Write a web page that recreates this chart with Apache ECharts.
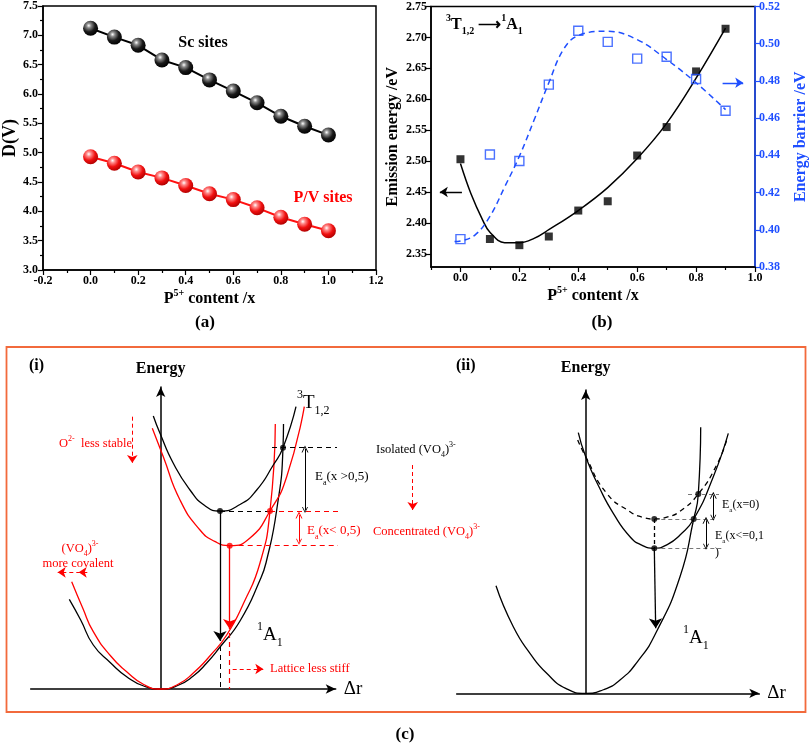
<!DOCTYPE html>
<html><head><meta charset="utf-8">
<script src="https://cdn.jsdelivr.net/npm/echarts@6/dist/echarts.min.js"></script>
<style>html,body{margin:0;padding:0;background:#fff}#c{width:810px;height:744px}</style>
</head><body><div id="c"></div>
<script>
const FONT = '"Liberation Serif","Times New Roman",serif';
const BLUE = '#1f4fff';
const RED = '#ff0000';

// ---------- panel (a) ----------
const xA = [0, 0.1, 0.2, 0.3, 0.4, 0.5, 0.6, 0.7, 0.8, 0.9, 1.0];
const scSites = [7.12, 6.97, 6.83, 6.58, 6.45, 6.24, 6.05, 5.85, 5.62, 5.45, 5.30];
const pvSites = [4.93, 4.82, 4.67, 4.57, 4.44, 4.30, 4.20, 4.06, 3.90, 3.78, 3.67];

// ---------- panel (b) ----------
const xB = [0, 0.1, 0.2, 0.3, 0.4, 0.5, 0.6, 0.7, 0.8, 0.9];
const emission = [2.503, 2.374, 2.364, 2.378, 2.420, 2.435, 2.509, 2.555, 2.645, 2.714];
const barrier = [0.395, 0.4405, 0.437, 0.478, 0.507, 0.501, 0.492, 0.493, 0.481, 0.464];
const emissionFitX = [0, 0.035, 0.075, 0.1, 0.15, 0.2, 0.25, 0.3, 0.4, 0.5, 0.6, 0.7, 0.8, 0.9];
const emissionFit = [2.496, 2.448, 2.405, 2.385, 2.368, 2.368, 2.375, 2.389, 2.420, 2.457, 2.504, 2.561, 2.634, 2.715];
const barrierFitX = [-0.02, 0, 0.05, 0.1, 0.15, 0.2, 0.25, 0.3, 0.35, 0.4, 0.5, 0.6, 0.7, 0.8, 0.9];
const barrierFit = [0.3937, 0.3940, 0.3973, 0.4072, 0.423, 0.4395, 0.459, 0.479, 0.497, 0.5044, 0.5067, 0.5022, 0.4915, 0.479, 0.4646];
const xTicksB = [0, 0.2, 0.4, 0.6, 0.8, 1.0];
const xMinorB = [-0.1, 0.1, 0.3, 0.5, 0.7, 0.9];
const yTicksB = [2.35, 2.40, 2.45, 2.50, 2.55, 2.60, 2.65, 2.70, 2.75];

// ---------- panel (c)(i) schematic (Δr, Energy in arbitrary units) ----------
const groundBlackI = [[-9.14, 8.97], [-8, 6.9], [-6.74, 4.4], [-5, 2.6], [-3.4, 1.23], [-1.7, 0.3], [0, 0], [1.7, 0.35], [3.26, 1.3], [4.6, 2.6], [5.93, 4.2], [7.93, 6.8], [9.93, 10.9], [10.6, 12.9], [11.6, 17.9], [12.23, 24.13], [12.28, 26.5]];
const groundRedI = [[-8.9, 10.73], [-7.8, 8.1], [-6.74, 5.73], [-5, 3.3], [-3.4, 1.73], [-1.7, 0.45], [0, 0], [1.7, 0.45], [3.26, 1.6], [5, 3.4], [6.6, 5.4], [8.3, 8.6], [9.93, 12.6], [10.93, 17.8], [11.46, 26.5]];
const excitedBlackI = [[-0.74, 27.3], [-0.07, 25.57], [1.26, 22.57], [2.93, 19.9], [4.4, 18.35], [5.93, 17.8], [7.93, 18.45], [9.6, 19.9], [11.26, 22.4], [12.23, 24.13], [13.53, 28.23]];
const excitedRedI = [[-0.84, 26.07], [0.26, 23.23], [1.93, 18.9], [3.93, 15.9], [5.4, 14.76], [6.9, 14.33], [8.93, 15.1], [10.93, 17.8], [12.6, 21.23], [14.36, 28.23]];
const dotsBlackI = [[5.93, 17.8], [12.23, 24.13]];
const dotsRedI = [[10.93, 17.8], [6.9, 14.33]];

// ---------- panel (c)(ii) schematic ----------
const groundII = [[-8.97, 10.76], [-7.24, 6.66], [-5.5, 3.9], [-3.9, 2.0], [-2, 0.5], [0, 0], [1.7, 0.33], [3.43, 1.33], [5.2, 3.2], [7.0, 6.0], [9.43, 11.66], [10.8, 17.43], [11.26, 19.93], [11.5, 26.6]];
const excitedSolidII = [[-0.74, 26.06], [0, 23.66], [1.4, 20.5], [2.76, 18.0], [4.43, 15.66], [5.6, 14.82], [6.86, 14.5], [8.2, 14.9], [9.43, 15.83], [10.8, 17.43], [12.76, 21.66], [14.26, 26.0]];
const excitedDashedII = [[-0.8, 25.33], [0, 23.66], [2.1, 20.0], [4.43, 18.16], [5.6, 17.63], [6.86, 17.43], [8.2, 17.65], [9.43, 18.2], [11.26, 19.93], [13.1, 22.83], [14.1, 25.33]];
const dotsII = [[6.86, 17.43], [6.86, 14.5], [11.26, 19.93], [10.8, 17.43]];

const pairs = (xs, ys) => xs.map((x, i) => [x, ys[i]]);

const chart = echarts.init(document.getElementById('c'), null, {renderer: 'canvas'});

const tickLbl = (c) => ({fontFamily: FONT, fontWeight: 'bold', fontSize: 12, color: c || '#000'});
const richAxisName = (c) => ({
  n: {fontFamily: FONT, fontWeight: 'bold', fontSize: 16, color: c, lineHeight: 22, verticalAlign: 'middle'},
  sup: {fontFamily: FONT, fontWeight: 'bold', fontSize: 10, color: c, lineHeight: 12, verticalAlign: 'top'}
});

function sphere(light, mid, dark) {
  return {type: 'radial', x: 0.38, y: 0.32, r: 0.7, colorStops: [
    {offset: 0, color: '#ffffff'}, {offset: 0.22, color: light}, {offset: 0.6, color: mid}, {offset: 1, color: dark}]};
}

// graphic text with sup/sub
function gtext(x, y, text, fs, color, opt) {
  opt = opt || {};
  const w = opt.bold ? 'bold' : 'normal';
  const s = Math.round(fs * 0.62);
  return {
    type: 'text', x: x, y: y, z: 100,
    style: {
      text: text, fill: color, fontFamily: FONT, fontSize: fs, fontWeight: w,
      align: opt.align || 'left', verticalAlign: 'middle',
      rich: {
        n: {fontFamily: FONT, fontSize: fs, fontWeight: w, fill: color, lineHeight: Math.round(fs * 1.45), verticalAlign: 'middle'},
        sup: {fontFamily: FONT, fontSize: s, fontWeight: w, fill: color, lineHeight: s + 1, verticalAlign: 'top'},
        sub: {fontFamily: FONT, fontSize: s, fontWeight: w, fill: color, lineHeight: s + 1, verticalAlign: 'bottom'}
      }
    }
  };
}

const chevron = 'path://M0,10L5,0L10,10L8.6,10L5,2.8L1.4,10Z';

// axis indices of the two schematic grids
const AX = {i: [3, 3], ii: [4, 4]};

function arrowLines(ax, color, type, data, sym, size, width) {
  return {
    type: 'lines', coordinateSystem: 'cartesian2d', xAxisIndex: ax[0], yAxisIndex: ax[1],
    symbol: sym, symbolSize: size, silent: true, z: 5,
    lineStyle: {color: color, width: width || 1.2, type: type, opacity: 1, curveness: 0},
    data: data.map(c => ({coords: c}))
  };
}

function curve(ax, data, color, type, width) {
  return {type: 'line', xAxisIndex: ax[0], yAxisIndex: ax[1], data: data, smooth: 0.55,
    showSymbol: false, clip: false, silent: true,
    lineStyle: {color: color, width: width || 1.3, type: type || 'solid'}};
}
function dots(ax, data, color) {
  return {type: 'scatter', xAxisIndex: ax[0], yAxisIndex: ax[1], data: data, symbolSize: 6, z: 6, silent: true,
    itemStyle: {color: color}};
}

function schemAxes(gi, xmin, xmax, ymax, ngap) {
  return {
    x: {gridIndex: gi, type: 'value', min: xmin, max: xmax, name: 'Δr', nameLocation: 'end', nameGap: 8,
      nameTextStyle: {fontFamily: FONT, fontSize: 19, color: '#000', verticalAlign: 'middle'},
      axisLine: {show: true, onZero: false, symbol: ['none', 'arrow'], symbolSize: [7, 10], lineStyle: {color: '#000', width: 1.5}},
      axisTick: {show: false}, axisLabel: {show: false}, splitLine: {show: false}},
    y: {gridIndex: gi, type: 'value', min: 0, max: ymax, name: 'Energy', nameLocation: 'end', nameGap: ngap,
      nameTextStyle: {fontFamily: FONT, fontSize: 16, fontWeight: 'bold', color: '#000'},
      axisLine: {show: true, onZero: true, symbol: ['none', 'arrow'], symbolSize: [7, 10], lineStyle: {color: '#000', width: 1.5}},
      axisTick: {show: false}, axisLabel: {show: false}, splitLine: {show: false}}
  };
}
const sI = schemAxes(2, -13, 17.5, 30.2, 10);
const sII = schemAxes(3, -12.9, 17.36, 30.33, 14);

const option = {
  backgroundColor: '#fff',
  animation: false,
  grid: [
    {left: 40, top: 6, width: 336, height: 264, show: true, borderColor: '#000', borderWidth: 1.5},
    {left: 431, top: 6.5, width: 328, height: 260.5, show: true, borderColor: '#000', borderWidth: 1.5},
    {left: 30.7, top: 387, width: 305, height: 302},
    {left: 456.7, top: 390, width: 302.6, height: 303.3}
  ],
  xAxis: [
    {gridIndex: 0, type: 'value', min: -0.2, max: 1.2, interval: 0.2,
      name: '{n|P}{sup|5+}{n| content /x}', nameLocation: 'middle', nameGap: 18,
      nameTextStyle: {rich: richAxisName('#000')},
      axisLine: {onZero: false, lineStyle: {color: '#000', width: 1.5}},
      axisTick: {inside: false, length: 5, lineStyle: {width: 1.2}},
      minorTick: {show: true, splitNumber: 2, length: 3, lineStyle: {color: '#000', width: 1.2}},
      axisLabel: Object.assign({margin: 5, formatter: v => v.toFixed(1)}, tickLbl()),
      splitLine: {show: false}},
    {gridIndex: 1, type: 'value', min: -0.1, max: 1.0,
      name: '{n|P}{sup|5+}{n| content /x}', nameLocation: 'middle', nameGap: 18,
      nameTextStyle: {rich: richAxisName('#000')},
      axisLine: {onZero: false, lineStyle: {color: '#000', width: 1.5}},
      axisTick: {length: 5, customValues: xTicksB, lineStyle: {width: 1.2}},
      axisLabel: Object.assign({margin: 5, customValues: xTicksB, formatter: v => v.toFixed(1)}, tickLbl()),
      splitLine: {show: false}},
    {gridIndex: 1, type: 'value', min: -0.1, max: 1.0, position: 'bottom',
      axisLine: {show: false, onZero: false}, axisLabel: {show: false},
      axisTick: {length: 3, customValues: xMinorB, lineStyle: {color: '#000', width: 1.2}},
      splitLine: {show: false}},
    sI.x, sII.x
  ],
  yAxis: [
    {gridIndex: 0, type: 'value', min: 3.0, max: 7.5, interval: 0.5,
      name: 'D(V)', nameLocation: 'middle', nameGap: 24,
      nameTextStyle: {fontFamily: FONT, fontWeight: 'bold', fontSize: 18, color: '#000'},
      axisLine: {onZero: false, lineStyle: {color: '#000', width: 1.5}},
      axisTick: {length: 5, lineStyle: {width: 1.2}},
      minorTick: {show: true, splitNumber: 2, length: 3, lineStyle: {color: '#000', width: 1.2}},
      axisLabel: Object.assign({margin: 5, formatter: v => v.toFixed(1)}, tickLbl()),
      splitLine: {show: false}},
    {gridIndex: 1, type: 'value', position: 'left', min: 2.3287, max: 2.75,
      name: 'Emission energy /eV', nameLocation: 'middle', nameGap: 30,
      nameTextStyle: {fontFamily: FONT, fontWeight: 'bold', fontSize: 16, color: '#000'},
      axisLine: {onZero: false, lineStyle: {color: '#000', width: 1.5}},
      axisTick: {length: 5, customValues: yTicksB, lineStyle: {width: 1.2}},
      axisLabel: Object.assign({margin: 4, customValues: yTicksB, formatter: v => v.toFixed(2)}, tickLbl()),
      splitLine: {show: false}},
    {gridIndex: 1, type: 'value', position: 'right', min: 0.38, max: 0.52, interval: 0.02,
      name: 'Energy barrier /eV', nameLocation: 'middle', nameGap: 38,
      nameTextStyle: {fontFamily: FONT, fontWeight: 'bold', fontSize: 16, color: BLUE},
      axisLine: {onZero: false, lineStyle: {color: BLUE, width: 1.5}},
      axisTick: {length: 5, lineStyle: {color: BLUE, width: 1.2}},
      axisLabel: Object.assign({margin: 4, formatter: v => v.toFixed(2)}, tickLbl(BLUE)),
      splitLine: {show: false}},
    sI.y, sII.y
  ],
  series: [
    // (a)
    {type: 'line', xAxisIndex: 0, yAxisIndex: 0, data: pairs(xA, scSites), symbol: 'circle', symbolSize: 15,
      lineStyle: {color: '#000', width: 2}, itemStyle: {color: sphere('#8a8a8a', '#1a1a1a', '#000')}, z: 3},
    {type: 'line', xAxisIndex: 0, yAxisIndex: 0, data: pairs(xA, pvSites), symbol: 'circle', symbolSize: 15,
      lineStyle: {color: '#ff1010', width: 2}, itemStyle: {color: sphere('#ff8a8a', '#f01010', '#b00000')}, z: 3},
    // (b)
    {type: 'line', xAxisIndex: 1, yAxisIndex: 1, data: pairs(emissionFitX, emissionFit), smooth: 0.4, showSymbol: false,
      lineStyle: {color: '#000', width: 1.5}},
    {type: 'line', xAxisIndex: 1, yAxisIndex: 2, data: pairs(barrierFitX, barrierFit), smooth: 0.4, showSymbol: false,
      lineStyle: {color: BLUE, width: 1.5, type: [6, 4]}},
    {type: 'scatter', xAxisIndex: 1, yAxisIndex: 1, data: pairs(xB, emission), symbol: 'rect', symbolSize: 8,
      itemStyle: {color: '#000'}, z: 4},
    {type: 'scatter', xAxisIndex: 1, yAxisIndex: 2, data: pairs(xB, barrier), symbol: 'rect', symbolSize: 9,
      itemStyle: {color: 'rgba(255,255,255,0)', borderColor: BLUE, borderWidth: 1.4}, z: 4},
    arrowLines([1, 1], '#000', 'solid', [[[0.005, 2.45], [-0.07, 2.45]]], ['none', 'arrow'], [6, 8], 1.3),
    arrowLines([1, 2], BLUE, 'solid', [[[0.89, 0.479], [0.96, 0.479]]], ['none', 'arrow'], [6, 8], 1.3),
    // (c)(i)
    curve(AX.i, groundBlackI, '#000'),
    curve(AX.i, groundRedI, RED),
    curve(AX.i, excitedBlackI, '#000'),
    curve(AX.i, excitedRedI, RED),
    arrowLines(AX.i, '#000', [5, 4], [[[11.13, 24.13], [17.83, 24.13]], [[5.93, 17.8], [10.93, 17.8]], [[5.93, 4.3], [5.93, 0]]], ['none', 'none'], 1, 1),
    arrowLines(AX.i, RED, [5, 4], [[[10.93, 17.8], [18.73, 17.8]], [[6.9, 14.33], [19.1, 14.33]], [[6.9, 5.6], [6.9, 0]]], ['none', 'none'], 1, 1.2),
    arrowLines(AX.i, '#000', 'solid', [[[5.93, 17.8], [5.93, 4.8]]], ['none', 'arrow'], [7, 10], 1.3),
    arrowLines(AX.i, RED, 'solid', [[[6.9, 14.33], [6.9, 6.0]]], ['none', 'arrow'], [7, 10], 1.3),
    arrowLines(AX.i, '#000', 'solid', [[[14.43, 24.0], [14.43, 17.9]]], [chevron, chevron], [7, 6], 1),
    arrowLines(AX.i, RED, 'solid', [[[13.83, 17.4], [13.83, 14.73]]], [chevron, chevron], [7, 6], 1),
    arrowLines(AX.i, RED, [4, 3], [[[7.2, 2.0], [10.26, 2.0]], [[-2.84, 27.23], [-2.84, 22.6]], [[-7.34, 11.67], [-10.3, 11.67]]], ['none', 'arrow'], [6, 8], 1),
    arrowLines(AX.i, RED, 'solid', [[[-7.6, 11.67], [-8.2, 11.67]]], ['none', 'arrow'], [6, 8], 1),
    Object.assign(arrowLines(AX.i, RED, [4, 3], [[[25.2, 22.4], [25.2, 17.9]]], ['none', 'arrow'], [6, 8], 1), {clip: false}),
    dots(AX.i, dotsBlackI, '#000'),
    dots(AX.i, dotsRedI, RED),
    // (c)(ii)
    curve(AX.ii, groundII, '#000'),
    curve(AX.ii, excitedSolidII, '#000'),
    curve(AX.ii, excitedDashedII, '#000', [5, 4]),
    arrowLines(AX.ii, '#777', [4, 3], [[[10.23, 19.93], [13.33, 19.93]], [[6.86, 17.43], [13.1, 17.43]], [[6.86, 14.5], [13.6, 14.5]]], ['none', 'none'], 1, 1.2),
    arrowLines(AX.ii, '#000', [4, 3], [[[6.86, 17.43], [6.86, 14.5]]], ['none', 'none'], 1, 1.3),
    arrowLines(AX.ii, '#000', 'solid', [[[6.86, 14.5], [7.0, 6.5]]], ['none', 'arrow'], [7, 10], 1.3),
    arrowLines(AX.ii, '#000', 'solid', [[[12.76, 19.8], [12.76, 17.55]], [[12.03, 17.3], [12.03, 14.65]]], [chevron, chevron], [7, 6], 1),
    dots(AX.ii, dotsII, '#000')
  ],
  graphic: [
    {type: 'rect', shape: {x: 6.5, y: 347, width: 799, height: 365}, style: {fill: 'none', stroke: '#f26a3c', lineWidth: 1.8}, z: 0},
    gtext(205, 323, '(a)', 17, '#000', {bold: true, align: 'center'}),
    gtext(602, 323, '(b)', 17, '#000', {bold: true, align: 'center'}),
    gtext(405, 735, '(c)', 17, '#000', {bold: true, align: 'center'}),
    gtext(203, 43, 'Sc sites', 16, '#000', {bold: true, align: 'center'}),
    gtext(323, 198, 'P/V sites', 16, RED, {bold: true, align: 'center'}),
    gtext(446, 25, '{sup|3}{n|T}{sub|1,2}{n| ⟶}{sup|1}{n|A}{sub|1}', 16, '#000', {bold: true}),
    gtext(29, 366, '(i)', 16, '#000', {bold: true}),
    gtext(456, 366, '(ii)', 16, '#000', {bold: true}),
    gtext(297, 403, '{sup|3}{n|T}{sub|1,2}', 19, '#000'),
    gtext(257, 635, '{sup|1}{n|A}{sub|1}', 19, '#000'),
    gtext(683, 638, '{sup|1}{n|A}{sub|1}', 19, '#000'),
    gtext(315, 477, '{n|E}{sub|a}{n|(x >0,5)}', 13, '#000'),
    gtext(307, 531, '{n|E}{sub|a}{n|(x< 0,5)}', 13, RED),
    gtext(376, 450, '{n|Isolated (VO}{sub|4}{n|)}{sup|3-}', 12.5, '#000'),
    gtext(373, 532, '{n|Concentrated (VO}{sub|4}{n|)}{sup|3-}', 12.5, RED),
    gtext(59, 444, '{n|O}{sup|2-}{n|  less stable}', 12.5, RED),
    gtext(80, 549, '{n|(VO}{sub|4}{n|)}{sup|3-}', 12.5, RED, {align: 'center'}),
    gtext(78, 564, 'more covalent', 12.5, RED, {align: 'center'}),
    gtext(270, 669, 'Lattice less stiff', 12.5, RED),
    gtext(722, 505, '{n|E}{sub|a}{n|(x=0)}', 12, '#000'),
    gtext(715, 536, '{n|E}{sub|a}{n|(x<=0,1}', 12, '#000'),
    gtext(715, 553, ')', 12, '#000')
  ]
};
chart.setOption(option);
</script></body></html>
